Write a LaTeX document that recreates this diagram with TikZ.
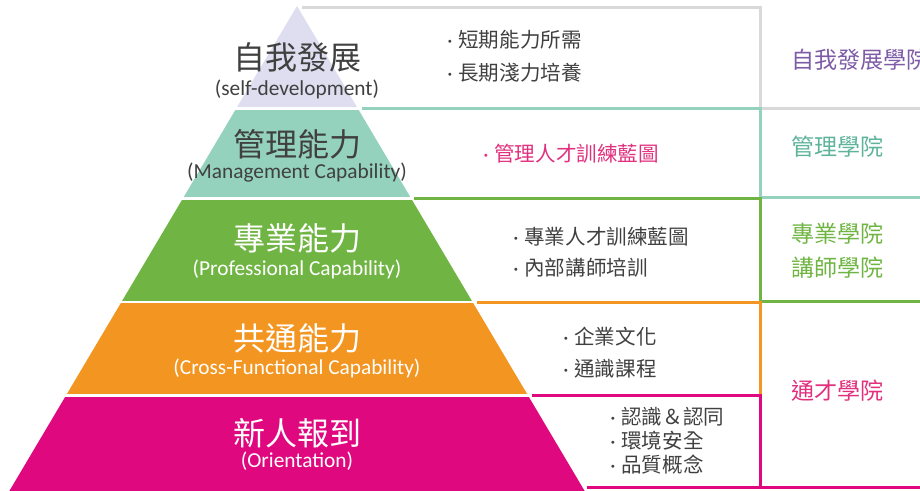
\documentclass[tikz,border=0pt]{standalone}
\usepackage{fontspec}
\setmainfont{Carlito}
\newfontfamily\cjk{Noto Sans CJK TC}
\usetikzlibrary{positioning}

\definecolor{selfdev}{HTML}{DEDEF0}
\definecolor{mgmt}{HTML}{94D2BE}
\definecolor{prof}{HTML}{70B544}
\definecolor{cross}{HTML}{F39521}
\definecolor{orient}{HTML}{E0087F}
\definecolor{frame}{HTML}{D9D9D9}
\definecolor{ink}{HTML}{404040}
\definecolor{selfdevtxt}{HTML}{7D5BA6}
\definecolor{mgmttxt}{HTML}{5FB39A}
\definecolor{pinktxt}{HTML}{E0307E}

\newcommand{\itemdot}{{\rmfamily ·}\hspace{4.5pt}}

\begin{document}
\begin{tikzpicture}[
    x=0.75pt, y=-0.75pt,
    ttl/.style ={font=\cjk\fontsize{24}{28}\selectfont, inner sep=0pt},
    sub/.style ={font=\fontsize{16}{19}\selectfont, inner sep=0pt},
    item/.style={font=\cjk\fontsize{15.4}{18}\selectfont, inner sep=0pt, anchor=west, text=ink},
    acad/.style={font=\cjk\fontsize{17.3}{20}\selectfont, inner sep=0pt, anchor=west},
    rule/.style={line width=3pt*0.75},
]
\useasboundingbox (0,0) rectangle (920,490);
\clip (0,0) rectangle (920,490);

% ── Pyramid bands ───────────────────────────────────────────────────────
\foreach \ytop/\ybot/\col in {6/106/selfdev, 110/196/mgmt, 200/300/prof,
                              303/393/cross, 397/495/orient} {
  \begin{scope}
    \clip (0,\ytop) rectangle (920,\ybot);
    \fill[\col] (297,6) -- (4,500) -- (590,500) -- cycle;
  \end{scope}
}

% ── Frames ──────────────────────────────────────────────────────────────
\draw[rule, frame]  (302,7)     -- (760,7)     -- (760,108)   -- (920,108);
\draw[rule, mgmt]   (362,108)   -- (760,108)   -- (760,197)   -- (920,197);
\draw[rule, prof]   (414,198.5) -- (760,198.5) -- (760,301)   -- (920,301);
\draw[rule, cross]  (477,302.5) -- (760,302.5) -- (760,395.5);
\draw[rule, orient] (532,395.5) -- (760,395.5) -- (760,487.5);
\draw[rule, orient] (587,487.5) -- (920,487.5);

% ── Pyramid labels ──────────────────────────────────────────────────────
\node[ttl, text=ink]   (selfT)  at (297,57)  {自我發展};
\node[sub, text=ink]   (selfS)  at (297,89)  {(self-development)};
\node[ttl, text=ink]   (mgmtT)  at (297,144) {管理能力};
\node[sub, text=ink]   (mgmtS)  at (297,173) {(Management Capability)};
\node[ttl, text=white] (profT)  at (297,238) {專業能力};
\node[sub, text=white] (profS)  at (297,269) {(Professional Capability)};
\node[ttl, text=white] (crossT) at (297,338) {共通能力};
\node[sub, text=white] (crossS) at (297,368) {(Cross-Functional Capability)};
\node[ttl, text=white] (oriT)   at (297,433) {新人報到};
\node[sub, text=white] (oriS)   at (297,461) {(Orientation)};

% ── Programmes ──────────────────────────────────────────────────────────
\node[item] (selfA)  at (447,40)  {\itemdot 短期能力所需};
\node[item] (selfB)  at (447,73)  {\itemdot 長期淺力培養};
\node[item, text=pinktxt] (mgmtA) at (483,154) {\itemdot 管理人才訓練藍圖};
\node[item] (profA)  at (513,237) {\itemdot 專業人才訓練藍圖};
\node[item] (profB)  at (513,268) {\itemdot 內部講師培訓};
\node[item] (crossA) at (563,337) {\itemdot 企業文化};
\node[item] (crossB) at (563,369) {\itemdot 通識課程};
\node[item] (oriA)   at (610,417) {\itemdot 認識＆認同};
\node[item] (oriB)   at (610,441) {\itemdot 環境安全};
\node[item] (oriC)   at (610,465) {\itemdot 品質概念};

% ── Academies ───────────────────────────────────────────────────────────
\node[acad, text=selfdevtxt] (selfC)  at (791,60)  {自我發展學院};
\node[acad, text=mgmttxt]    (mgmtC)  at (791,147) {管理學院};
\node[acad, text=prof]       (profC)  at (791,234) {專業學院};
\node[acad, text=prof]       (tutorC) at (791,268) {講師學院};
\node[acad, text=pinktxt]    (genC)   at (791,391) {通才學院};

\end{tikzpicture}
\end{document}
